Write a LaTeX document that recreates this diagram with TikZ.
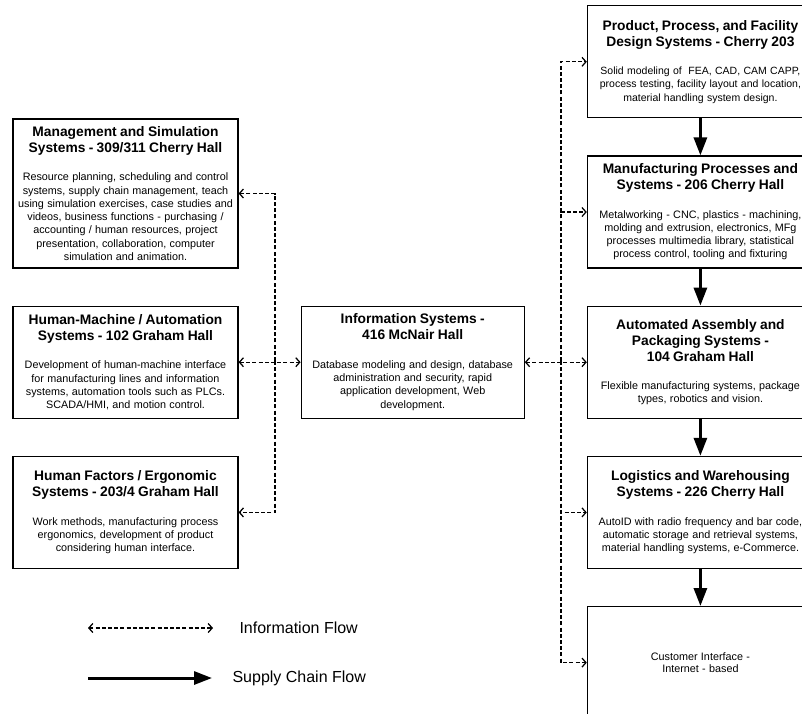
\documentclass[tikz,border=0pt]{standalone}
\usepackage{fontspec}
\setmainfont{Liberation Sans}
\usepackage{tikz}
\usetikzlibrary{arrows.meta,positioning}

\newcommand{\hd}{\fontsize{13.8}{16}\selectfont\bfseries}
\newcommand{\bd}{\fontsize{10.8}{13.3}\selectfont}

\begin{document}
\begin{tikzpicture}[x=1pt,y=-1pt,
                    sysbox/.style={draw,line width=1.2pt,align=center,inner sep=0pt,minimum height=112pt},
                    infoflow/.style={line width=1.25pt,dash pattern=on 4pt off 2.2pt,arrows={-Straight Barb[length=4pt,width=9pt]}},
                    infoboth/.style={infoflow,arrows={Straight Barb[length=4pt,width=9pt]-Straight Barb[length=4pt,width=9pt]}},
                    supplyflow/.style={line width=3pt,-{Triangle[length=18pt,width=13pt]}}]

 \useasboundingbox (0,0) rectangle (802,713);
 \clip (0,0) rectangle (802,713);

 % left column
 \node[sysbox,text width=225pt,minimum height=149pt] (mgmt) at (125.5,193.5)
   {{\hd Management and Simulation\\Systems - 309/311 Cherry Hall\par}\vspace{15pt}
    {\bd Resource planning, scheduling and control\\systems, supply chain management, teach\\using simulation exercises, case studies and\\videos, business functions - purchasing /\\accounting / human resources, project\\presentation, collaboration, computer\\simulation and animation.\par}};
 \node[sysbox,text width=225pt] (hm) [below=37pt of mgmt]
   {{\hd Human-Machine / Automation\\Systems - 102 Graham Hall\par}\vspace{15pt}
    {\bd Development of human-machine interface\\for manufacturing lines and information\\systems, automation tools such as PLCs.\\SCADA/HMI, and motion control.\par}};
 \node[sysbox,text width=225pt] (hf) [below=37pt of hm]
   {{\hd Human Factors / Ergonomic\\Systems - 203/4 Graham Hall\par}\vspace{15pt}
    {\bd Work methods, manufacturing process\\ergonomics, development of product\\considering human interface.\par}};

 % middle
 \node[sysbox,text width=223pt] (info) [right=62pt of hm]
   {{\hd Information Systems -\\416 McNair Hall\par}\vspace{15pt}
    {\bd Database modeling and design, database\\administration and security, rapid\\application development, Web\\development.\par}};

 % right column
 \node[sysbox,text width=226pt] (auto) [right=62pt of info]
   {{\hd Automated Assembly and\\Packaging Systems -\\104 Graham Hall\par}\vspace{15pt}
    {\bd Flexible manufacturing systems, package\\types, robotics and vision.\par}};
 \node[sysbox,text width=226pt] (manu) [above=37pt of auto]
   {{\hd Manufacturing Processes and\\Systems - 206 Cherry Hall\par}\vspace{15pt}
    {\bd Metalworking - CNC, plastics - machining,\\molding and extrusion, electronics, MFg\\processes multimedia library, statistical\\process control, tooling and fixturing\par}};
 \node[sysbox,text width=226pt] (prod) [above=37pt of manu]
   {{\hd Product, Process, and Facility\\Design Systems - Cherry 203\par}\vspace{15pt}
    {\fontsize{10.5}{13.3}\selectfont Solid modeling of \ FEA, CAD, CAM CAPP,\\process testing, facility layout and location,\\material handling system design.\par}};
 \node[sysbox,text width=226pt] (log) [below=37pt of auto]
   {{\hd Logistics and Warehousing\\Systems - 226 Cherry Hall\par}\vspace{15pt}
    {\bd AutoID with radio frequency and bar code,\\automatic storage and retrieval systems,\\material handling systems, e-Commerce.\par}};
 \node[sysbox,text width=226pt] (cust) [below=37pt of log]
   {\bd Customer Interface -\\Internet - based};

 % information flow
 \coordinate (lbus) at (275,361);
 \coordinate (rbus) at (561,361);
 \draw[infoflow] (lbus) |- (mgmt.east);
 \draw[infoflow] (lbus) |- (hf.east);
 \draw[infoboth] (hm) -- (info);
 \draw[infoboth] (info) -- (auto);
 \draw[infoflow] (rbus) |- (prod.west);
 \draw[infoflow] (rbus) |- (manu.west);
 \draw[infoflow] (rbus) |- (log.west);
 \draw[infoflow] (rbus) |- (cust.west);

 % supply chain flow
 \draw[supplyflow] (prod) -- (manu);
 \draw[supplyflow] (manu) -- (auto);
 \draw[supplyflow] (auto) -- (log);
 \draw[supplyflow] (log) -- (cust);

 % legend
 \coordinate (infoA) at (88,628);
 \coordinate (infoB) at (213,628);
 \coordinate (supA) at (88,678);
 \coordinate (supB) at (212,678);
 \draw[infoboth] (infoA) -- (infoB);
 \draw[supplyflow] (supA) -- (supB);
 \node[anchor=west,font=\fontsize{16}{18}\selectfont] (infolbl) at (236,628) {Information Flow};
 \node[anchor=west,font=\fontsize{16}{18}\selectfont] (suplbl) at (229,678) {Supply Chain Flow};

\end{tikzpicture}
\end{document}
